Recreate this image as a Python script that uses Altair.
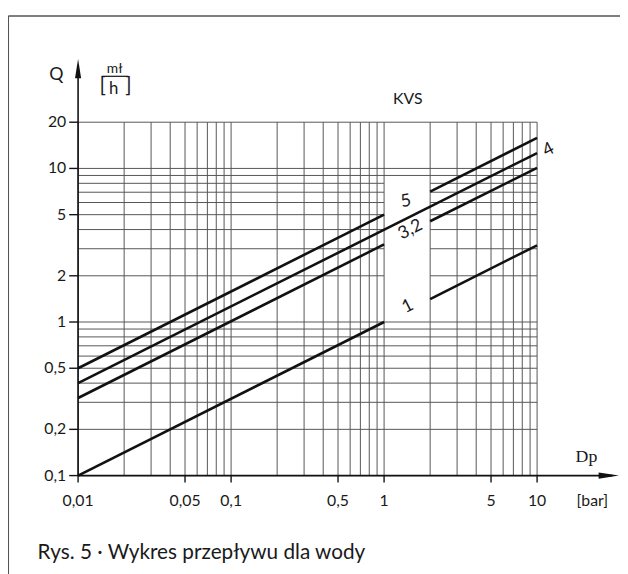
import altair as alt
import pandas as pd

# ---------------- data ----------------
# characteristic lines Q(Dp) for each KVS (segments are interrupted by the label box)
line_seg = ["5a", "5a", "5b", "5b", "4", "4", "3.2a", "3.2a", "3.2b", "3.2b", "1a", "1a", "1b", "1b"]
line_dp = [0.01, 1, 2, 10, 0.01, 10, 0.01, 1, 2, 10, 0.01, 1, 2, 10]
line_q = [0.5, 5, 7.07, 15.8, 0.4, 12.6, 0.32, 3.2, 4.53, 10.1, 0.1, 1, 1.41, 3.16]

# KVS labels
kvs_names = ["5", "4", "3,2", "1"]
kvs_label_dp = [1.39, 11.9, 1.49, 1.43]
kvs_label_q = [6.1, 13.2, 3.99, 1.26]
kvs_label_angle = [350, 333, 333, 333]

# grid lines
grid_dp = [0.01, 0.02, 0.03, 0.04, 0.05, 0.06, 0.07, 0.08, 0.09,
           0.1, 0.2, 0.3, 0.4, 0.5, 0.6, 0.7, 0.8, 0.9,
           1, 2, 3, 4, 5, 6, 7, 8, 9, 10]
grid_q = [0.1, 0.2, 0.3, 0.4, 0.5, 0.6, 0.7, 0.8, 0.9,
          1, 2, 3, 4, 5, 6, 7, 8, 9, 10, 20]

# axis ticks and their labels
x_ticks = [0.01, 0.05, 0.1, 0.5, 1, 5, 10]
x_tick_labels = ["0,01", "0,05", "0,1", "0,5", "1", "5", "10"]
y_ticks = [0.1, 0.2, 0.5, 1, 2, 5, 10, 20]
y_tick_labels = ["0,1", "0,2", "0,5", "1", "2", "5", "10", "20"]

# white label box
box_dp = [1, 2]
box_q = [1.05, 8.5]

# texts
caption = "Rys. 5 · Wykres przepływu dla wody"
kvs_title = "KVS"

FONT = "Lato"
TXT = "#1a1a1a"
INK = "#111111"
GRID = "#555555"

xs = alt.Scale(type="log", domain=[0.01, 10], nice=False)
ys = alt.Scale(type="log", domain=[0.1, 20], nice=False)


def X(f):
    return alt.X(f, scale=xs, axis=None)


def Y(f):
    return alt.Y(f, scale=ys, axis=None)


hgrid = alt.Chart(pd.DataFrame({"gq": grid_q})).mark_rule(
    color=GRID, strokeWidth=1).encode(y=Y("gq:Q"))

box = alt.Chart(pd.DataFrame({"x1": [box_dp[0]], "x2": [box_dp[1]],
                              "y1": [box_q[0]], "y2": [box_q[1]]})).mark_rect(
    fill="white").encode(x=X("x1:Q"), x2="x2:Q", y=Y("y1:Q"), y2="y2:Q")

vgrid = alt.Chart(pd.DataFrame({"gx": grid_dp})).mark_rule(
    color=GRID, strokeWidth=1).encode(x=X("gx:Q"))

lines = alt.Chart(pd.DataFrame({"seg": line_seg, "dp": line_dp, "q": line_q})).mark_line(
    color=INK, strokeWidth=2.6).encode(
    x=X("dp:Q"), y=Y("q:Q"), detail="seg:N")

# ticks and tick labels
x_tick_df = pd.DataFrame({"v": x_ticks, "t": x_tick_labels})
y_tick_df = pd.DataFrame({"v": y_ticks, "t": y_tick_labels})

xticks = alt.Chart(x_tick_df).mark_rule(color=INK, strokeWidth=1.4).encode(
    x=X("v:Q"), y=alt.value(358), y2=alt.value(365))
xlabels = alt.Chart(x_tick_df).mark_text(
    font=FONT, fontSize=16, color=TXT, align="center", baseline="middle").encode(
    x=X("v:Q"), y=alt.value(384), text="t:N")
yticks = alt.Chart(y_tick_df).mark_rule(color=INK, strokeWidth=1.4).encode(
    y=Y("v:Q"), x=alt.value(-9), x2=alt.value(0))
ylabels = alt.Chart(y_tick_df).mark_text(
    font=FONT, fontSize=16, color=TXT, align="right", baseline="middle").encode(
    y=Y("v:Q"), x=alt.value(-12), text="t:N")

# axes lines with arrows
yaxis_line = alt.Chart(pd.DataFrame({"x": [0.01], "y1": [0.1], "y2": [47]})).mark_rule(
    color=INK, strokeWidth=1.6).encode(x=X("x:Q"), y=Y("y1:Q"), y2="y2:Q")
xaxis_line = alt.Chart(pd.DataFrame({"y": [0.1], "x1": [0.01], "x2": [31]})).mark_rule(
    color=INK, strokeWidth=1.6).encode(y=Y("y:Q"), x=X("x1:Q"), x2="x2:Q")

arrow_up = alt.Chart(pd.DataFrame({"x": [0.01], "y": [51.5]})).mark_point(
    shape="M0,0 L0.16,1 L-0.16,1 Z", filled=True, size=1500, color=INK,
    opacity=1, strokeWidth=0).encode(x=X("x:Q"), y=Y("y:Q"))
arrow_right = alt.Chart(pd.DataFrame({"x": [34.3], "y": [0.1]})).mark_point(
    shape="M0,0 L-1,-0.15 L-1,0.15 Z", filled=True, size=1700, color=INK,
    opacity=1, strokeWidth=0).encode(x=X("x:Q"), y=Y("y:Q"))

kvs_labels = alt.Chart(pd.DataFrame({"t": kvs_names, "x": kvs_label_dp,
                                     "y": kvs_label_q, "a": kvs_label_angle})).mark_text(
    font=FONT, fontSize=18, color=TXT, align="center", baseline="middle").encode(
    x=X("x:Q"), y=Y("y:Q"), text="t:N", angle=alt.Angle("a:Q", scale=None))

kvs_head = alt.Chart(pd.DataFrame({"t": [kvs_title], "x": [1.43], "y": [28.1]})).mark_text(
    font=FONT, fontSize=16, color=TXT, align="center", baseline="middle").encode(
    x=X("x:Q"), y=Y("y:Q"), text="t:N")


def ptext(t, x, y, size, font=FONT, align="center", baseline="middle"):
    return alt.Chart(pd.DataFrame({"t": [t]})).mark_text(
        font=font, fontSize=size, color=TXT, align=align, baseline=baseline).encode(
        text="t:N", x=alt.value(x), y=alt.value(y))


q_lbl = ptext("Q", -22, -48, 18)
unit_top = ptext("mł", 37, -54, 14)
unit_bar = alt.Chart(pd.DataFrame({"a": [0]})).mark_rule(color=INK, strokeWidth=1.2).encode(
    x=alt.value(24), x2=alt.value(51), y=alt.value(-46.5))
br_l = ptext("[", 25, -37, 21)
unit_h = ptext("h", 36, -34, 17)
br_r = ptext("]", 51, -37, 21)
dp_lbl = ptext("Dp", 515, 339, 18, font="Liberation Serif")
bar_lbl = ptext("[bar]", 521, 384, 16)
cap = ptext(caption, -41, 443, 21, align="left", baseline="alphabetic")

frame_l = alt.Chart(pd.DataFrame({"a": [0]})).mark_rule(color="#555", strokeWidth=1.5).encode(
    x=alt.value(-70.7), y=alt.value(-107.7), y2=alt.value(460))
frame_t = alt.Chart(pd.DataFrame({"a": [0]})).mark_rule(color="#555", strokeWidth=1.5).encode(
    x=alt.value(-70.7), x2=alt.value(560), y=alt.value(-107.7))

chart = alt.layer(
    hgrid, box, vgrid, lines, xticks, xlabels, yticks, ylabels,
    yaxis_line, xaxis_line, arrow_up, arrow_right,
    kvs_labels, kvs_head, q_lbl, unit_top, unit_bar, br_l, unit_h, br_r,
    dp_lbl, bar_lbl, cap, frame_l, frame_t
).properties(
    width=465, height=358,
    autosize=alt.AutoSizeParams(type="none"),
    padding={"left": 71, "top": 112, "right": 84, "bottom": 96},
    background="white"
).configure_view(stroke=None)

chart.save("out.html", embed_options={"renderer": "svg", "actions": False})
